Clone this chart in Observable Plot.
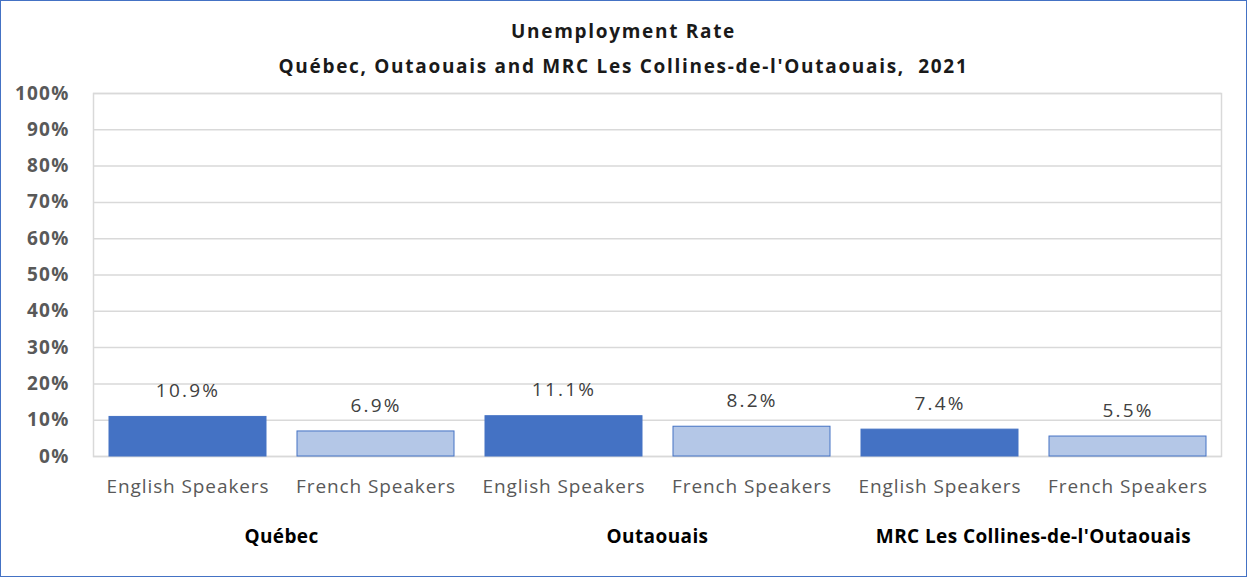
<!DOCTYPE html>
<html>
<head>
<meta charset="utf-8">
<script src="https://cdn.jsdelivr.net/npm/d3@7"></script>
<script src="https://cdn.jsdelivr.net/npm/@observablehq/plot@0.6"></script>
<style>
  html, body { margin: 0; padding: 0; background: #fff; }
  #chart { position: relative; box-sizing: border-box; width: 1247px; height: 577px; border: 1px solid #4472C4; background: #fff; font-family: "Open Sans", Lato, sans-serif; overflow: hidden; }
  #titles { position: relative; height: 77px; }
  .t { position: absolute; left: 0; right: 0; text-align: center; font-weight: bold; font-size: 19px; letter-spacing: 1.7px; color: #1a1a1a; line-height: 22px; white-space: pre; }
  #t1 { top: 19px; }
  #t2 { top: 54px; }
  svg { display: block; }
  svg text { letter-spacing: 0.9px; }
  svg .vlab text { letter-spacing: 2.2px; }
  svg .ylab text { letter-spacing: 1.2px; }
  svg .fxlab text { letter-spacing: 0.4px; }
</style>
</head>
<body>
<div id="chart">
  <div id="titles">
    <div class="t" id="t1">Unemployment Rate</div>
    <div class="t" id="t2">Québec, Outaouais and MRC Les Collines-de-l'Outaouais,  2021</div>
  </div>
</div>
<script>
const groups = ["Québec", "Outaouais", "MRC Les Collines-de-l'Outaouais"];
const speakers = ["English Speakers", "French Speakers"];
const englishRates = [10.9, 11.1, 7.4];
const frenchRates = [6.9, 8.2, 5.5];
const yTicks = [0, 10, 20, 30, 40, 50, 60, 70, 80, 90, 100];

const data = groups.flatMap((g, i) => [
  {group: g, speaker: speakers[0], value: englishRates[i]},
  {group: g, speaker: speakers[1], value: frenchRates[i]}
]);

const chart = Plot.plot({
  width: 1245,
  height: 497,
  marginLeft: 91,
  marginRight: 24,
  marginTop: 15,
  marginBottom: 119,
  style: {fontFamily: "'Open Sans', Lato, sans-serif", fontSize: "18px", color: "#595959", background: "white"},
  fx: {domain: groups, padding: 0, label: null},
  x: {domain: speakers, paddingInner: 0.165, paddingOuter: 0.0825, label: null},
  y: {domain: [0, 100], label: null},
  color: {domain: speakers, range: ["#4472C4", "#B4C7E7"]},
  marks: [
    Plot.gridY(yTicks, {stroke: "#d9d9d9", strokeOpacity: 1, strokeWidth: 1.5}),
    Plot.frame({facet: "super", stroke: "#d9d9d9", strokeWidth: 1.5}),
    Plot.barY(data, {fx: "group", x: "speaker", y: "value", fill: "speaker", stroke: "#4472C4", strokeWidth: 1}),
    Plot.text(data, {fx: "group", x: "speaker", y: "value", text: d => d.value.toFixed(1) + "%", dy: -26, fill: "#404040", fontSize: 19, className: "vlab"}),
    Plot.axisY(yTicks, {tickSize: 0, tickPadding: 24, tickFormat: d => d + "%", fontWeight: "bold", fill: "#595959", fontSize: 19, label: null, className: "ylab"}),
    Plot.axisX({tickSize: 0, tickPadding: 23, fill: "#595959", fontSize: 19, label: null}),
    Plot.axisFx({anchor: "bottom", tickSize: 0, tickPadding: 73, fontWeight: "bold", fill: "#000", fontSize: 19, label: null, className: "fxlab"})
  ]
});
document.getElementById("chart").appendChild(chart);
</script>
</body>
</html>
